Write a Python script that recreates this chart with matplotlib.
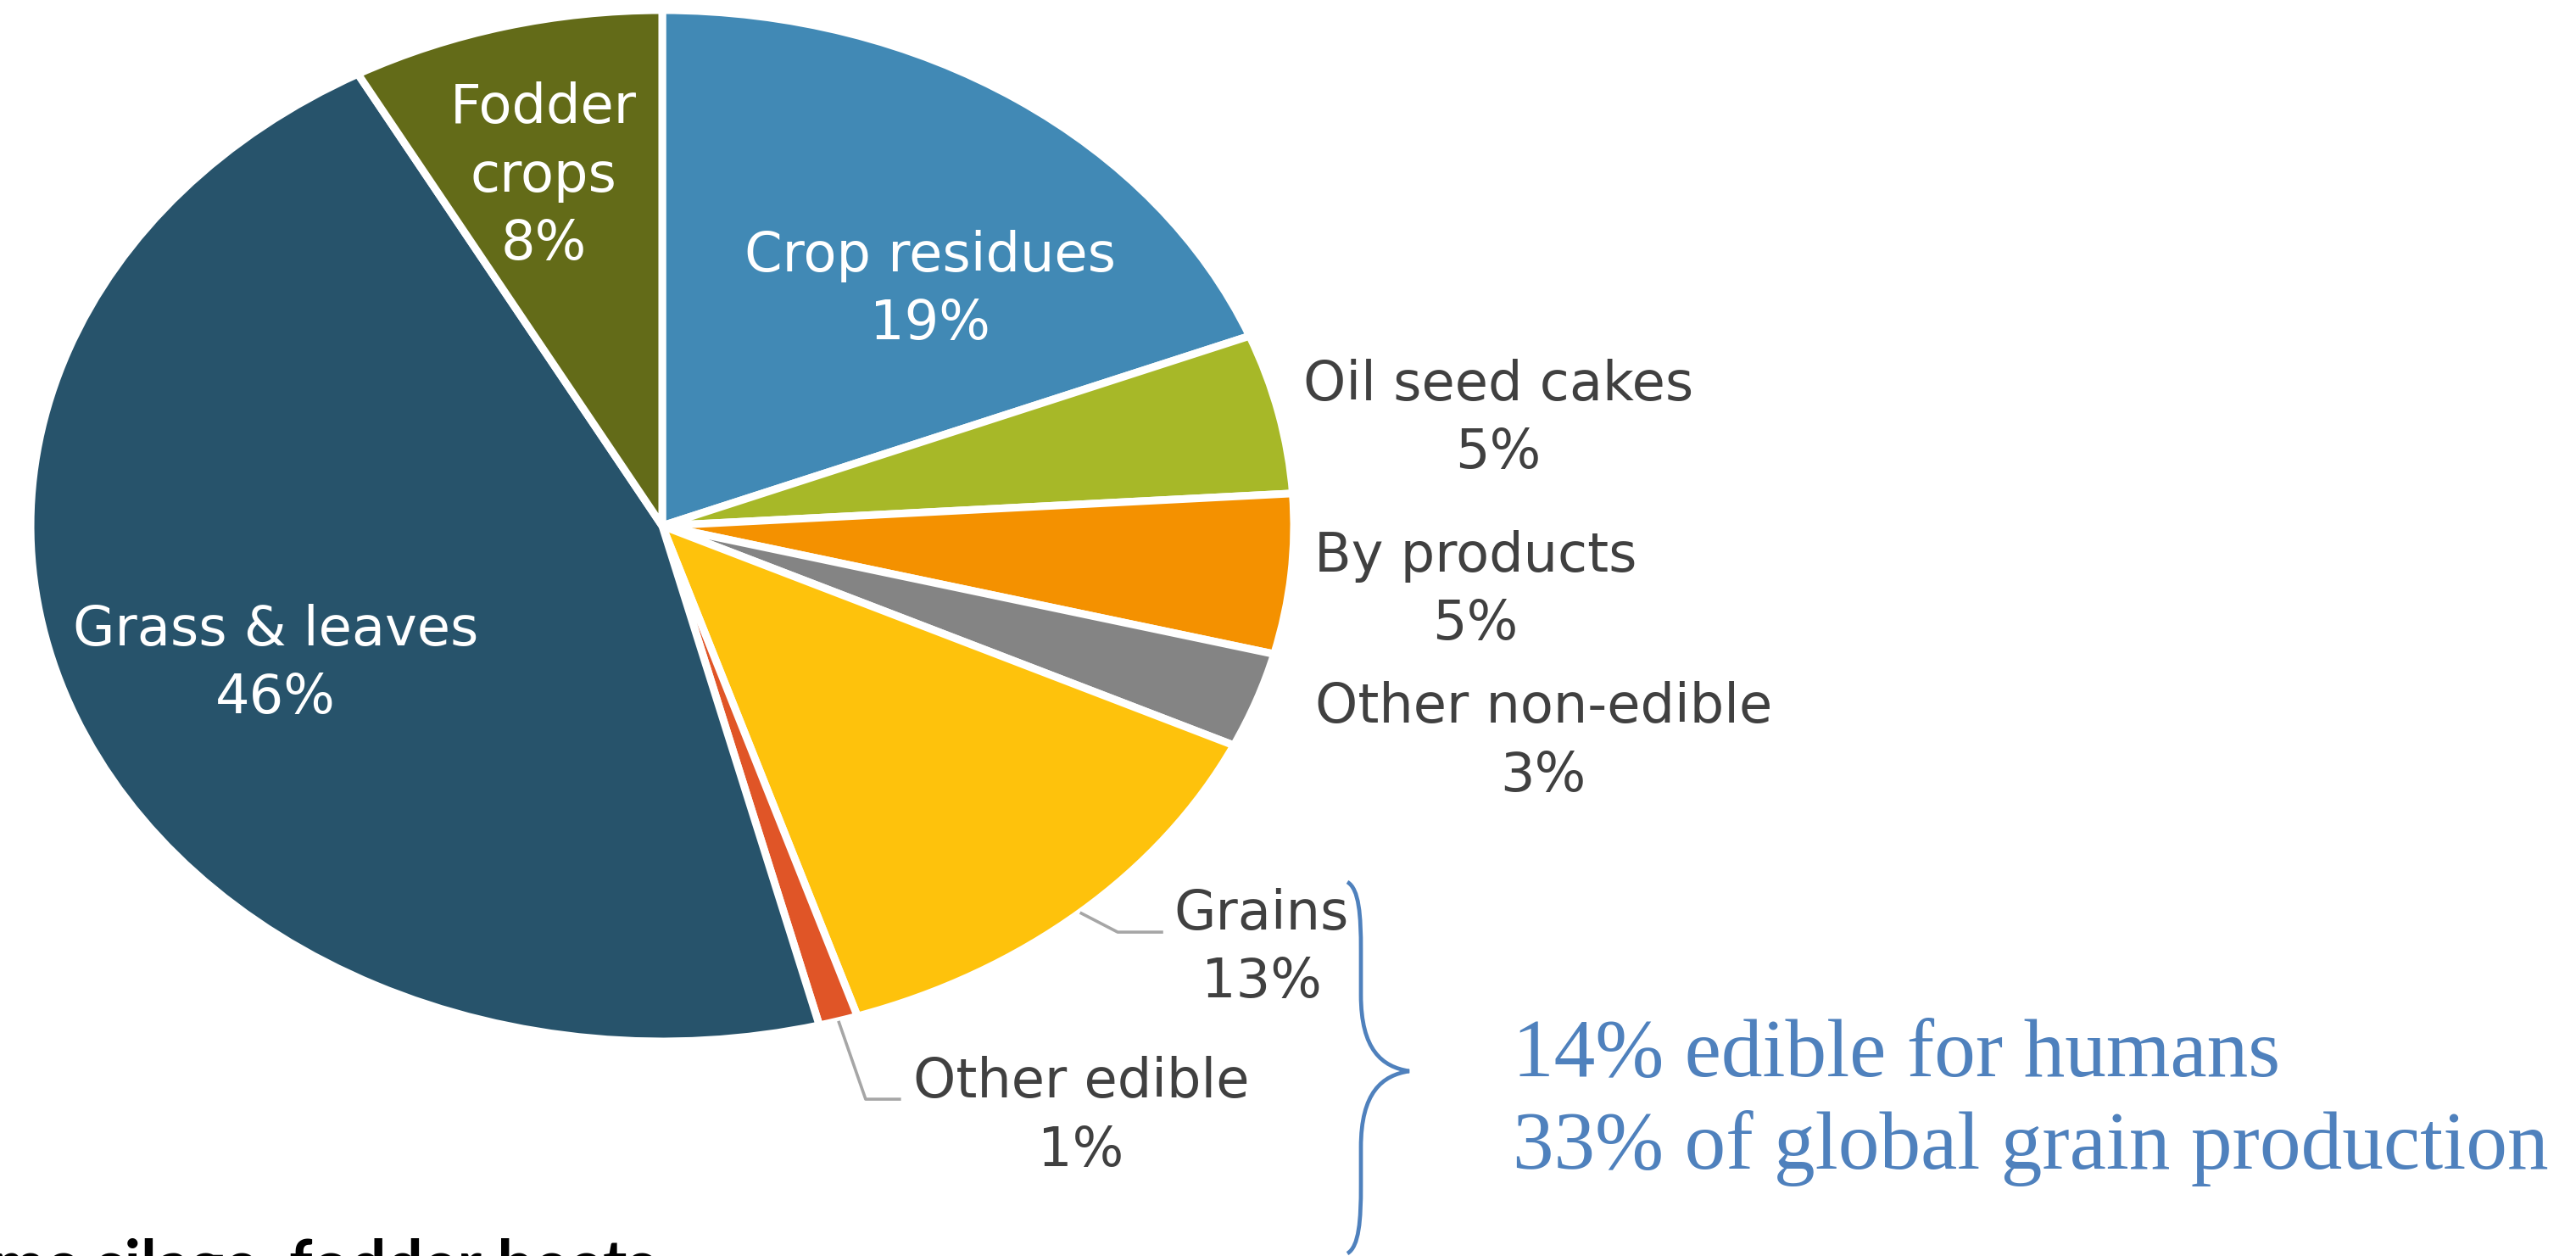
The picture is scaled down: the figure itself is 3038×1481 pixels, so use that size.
import matplotlib
matplotlib.use("Agg")
import matplotlib.pyplot as plt
from matplotlib.path import Path
from matplotlib.patches import PathPatch
import numpy as np

# Feed intake shares (%)
categories = ["Crop residues", "Oil seed cakes", "By products", "Other non-edible",
              "Grains", "Other edible", "Grass & leaves", "Fodder crops"]
shares = [19, 5, 5, 3, 13, 1, 46, 8]
label_names = ["Crop residues", "Oil seed cakes", "By products", "Other non-edible",
               "Grains", "Other edible", "Grass & leaves", "Fodder\ncrops"]
colors = ["#4189B5", "#A7B828", "#F49100", "#848484",
          "#FEC20C", "#E05527", "#27536B", "#636B18"]

note_lines = ["14% edible for humans", "33% of global grain production"]
footer = "me silage, fodder beets"

W, H = 3038, 1481
DPI = 100

# label placement in pie data units (center of each label block)
label_pos = [(0.424, 0.457), (1.323, 0.207), (1.287, -0.125), (1.395, -0.419),
             (0.949, -0.819), (0.663, -1.146), (-0.612, -0.268), (-0.188, 0.678)]
inside = [True, False, False, False, False, False, True, True]
# leader elbows for the two bottom labels (pie data units)
leaders = {4: [(0.721, -0.788), (0.793, -0.788)],
           5: [(0.322, -1.112), (0.378, -1.112)]}

LABEL_FONT = ["DejaVu Sans"]


def main() -> None:
    fig = plt.figure(figsize=(W / DPI, H / DPI), dpi=DPI)
    fig.patch.set_facecolor("white")

    # pie centre (781, 620) px, radii 745 x 608 px -> stretched ellipse
    cx, cy, rx, ry = 781, 620, 745, 608
    ax = fig.add_axes([(cx - rx) / W, (H - cy - ry) / H, 2 * rx / W, 2 * ry / H])
    wedges, _ = ax.pie(shares, colors=colors, startangle=90, counterclock=False,
                       radius=1.0, wedgeprops=dict(edgecolor="white", linewidth=6.5,
                                                   joinstyle="miter"))
    ax.set_aspect("auto")
    ax.set_xlim(-1, 1)
    ax.set_ylim(-1, 1)
    ax.axis("off")

    for i, (name, val) in enumerate(zip(label_names, shares)):
        x, y = label_pos[i]
        ax.text(x, y, f"{name}\n{val}%", ha="center", va="center",
                fontsize=46, family=LABEL_FONT, linespacing=1.38,
                color="white" if inside[i] else "#404040", clip_on=False)

    for i, pts in leaders.items():
        w = wedges[i]
        mid = np.deg2rad((w.theta1 + w.theta2) / 2)
        xs = [np.cos(mid)] + [p[0] for p in pts]
        ys = [np.sin(mid)] + [p[1] for p in pts]
        ax.plot(xs, ys, color="#A6A6A6", lw=2.6, clip_on=False, solid_capstyle="butt")

    # overlay in pixel coordinates for brace and notes
    ov = fig.add_axes([0, 0, 1, 1])
    ov.set_xlim(0, W)
    ov.set_ylim(H, 0)
    ov.axis("off")
    ov.patch.set_visible(False)

    x0, xs, xt = 1589, 1605, 1662
    ytop, yt, ybot = 1040, 1263, 1478
    verts = [
        (x0, ytop), (xs - 2, ytop + 8), (xs, ytop + 40), (xs, ytop + 80),
        (xs, yt - 90),
        (xs, yt - 25), (xs + 25, yt - 5), (xt, yt),
        (xs + 25, yt + 5), (xs, yt + 25), (xs, yt + 90),
        (xs, ybot - 80),
        (xs, ybot - 40), (xs - 2, ybot - 8), (x0, ybot),
    ]
    codes = [Path.MOVETO, Path.CURVE4, Path.CURVE4, Path.CURVE4,
             Path.LINETO,
             Path.CURVE4, Path.CURVE4, Path.CURVE4,
             Path.CURVE4, Path.CURVE4, Path.CURVE4,
             Path.LINETO,
             Path.CURVE4, Path.CURVE4, Path.CURVE4]
    ov.add_patch(PathPatch(Path(verts, codes), facecolor="none",
                           edgecolor="#4F81BD", lw=3.4))

    for line, y in zip(note_lines, [1246, 1354]):
        ov.text(1784, y, line, ha="left", va="center", fontsize=70,
                family="Liberation Serif", color="#4F81BD")

    ov.text(-10, 1517, footer, ha="left", va="baseline", fontsize=55,
            family="Lato", fontweight="bold", color="black", clip_on=False)

    fig.savefig("out.png", dpi=DPI, facecolor="white")


if __name__ == "__main__":
    main()
